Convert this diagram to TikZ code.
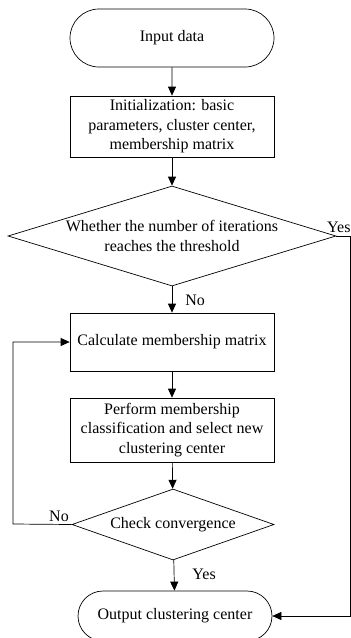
\documentclass[tikz,border=0pt]{standalone}
\usepackage{fontspec}
\setmainfont{Liberation Serif}
\usepackage{tikz}
\usetikzlibrary{shapes.geometric,shapes.misc,arrows.meta}

\begin{document}
\begin{tikzpicture}[x=1pt,y=-1pt]
          \tikzset{
            BoxStyle/.style = { rectangle, draw, line width=0.7pt,
              minimum width = 204pt, align = center, inner sep=0pt,
              font = \fontsize{16}{19.5}\selectfont },
            EndStyle/.style = { rounded rectangle, draw, line width=0.7pt,
              inner sep=0pt, font = \fontsize{16}{19.5}\selectfont },
            DecStyle/.style = { diamond, draw, line width=0.7pt,
              inner sep=0pt, font = \fontsize{16}{19.5}\selectfont },
            TextStyle/.style = { align = center, inner sep=0pt,
              font = \fontsize{16}{19.5}\selectfont },
            EdgeStyle/.style = { line width=0.7pt,
              -{Triangle[length=9pt,width=8pt]} } }

          \useasboundingbox (0,0) rectangle (351,638);
          \node[EndStyle, minimum width=204pt, minimum height=58pt] (INPUT) at (172,38) {Input data};
          \node[BoxStyle, minimum height=61pt] (INIT) at (172,126.5) {Initialization: basic\\parameters, cluster center,\\membership matrix};
          \node[DecStyle, minimum width=328pt, minimum height=100pt] (ITER) at (172,236) {};
          \node[TextStyle] (ITERT) at (ITER) {Whether the number of iterations\\reaches the threshold};
          \node[BoxStyle, minimum height=58pt] (CALC) at (172,342) {Calculate membership matrix};
          \node[BoxStyle, minimum height=64pt] (CLASS) at (172,430) {Perform membership\\classification and select new\\clustering center};
          \node[DecStyle, aspect=2.85, minimum width=202pt, minimum height=71pt] (CONV) at (173,524.5) {Check convergence};
          \node[EndStyle, minimum width=194pt, minimum height=50pt] (OUTPUT) at (175,616) {Output clustering center};

          \coordinate (YESR) at (350,236);
          \coordinate (LOOPL) at (13,524);

          \draw[EdgeStyle] (INPUT) -- (INIT);
          \draw[EdgeStyle] (INIT) -- (ITER);
          \draw[EdgeStyle] (ITER) -- node[TextStyle, anchor=west, xshift=13pt, yshift=-1pt] (NO1) {No} (CALC);
          \draw[EdgeStyle] (CALC) -- (CLASS);
          \draw[EdgeStyle] (CLASS) -- (CONV);
          \draw[EdgeStyle] (CONV) -- node[TextStyle, anchor=west, xshift=18pt, yshift=1pt] (YES2) {Yes} (OUTPUT);
          % loop back and exit
          \draw[EdgeStyle] (CONV.west) -- (LOOPL) |- (CALC.west);
          \draw[EdgeStyle] (ITER.east) -- (YESR) |- (OUTPUT.east);
          \node[TextStyle, anchor=east] (NO2) at (69,516) {No};
          \node[TextStyle, anchor=west] (YES1) at (327,227) {Yes};
\end{tikzpicture}
\end{document}
